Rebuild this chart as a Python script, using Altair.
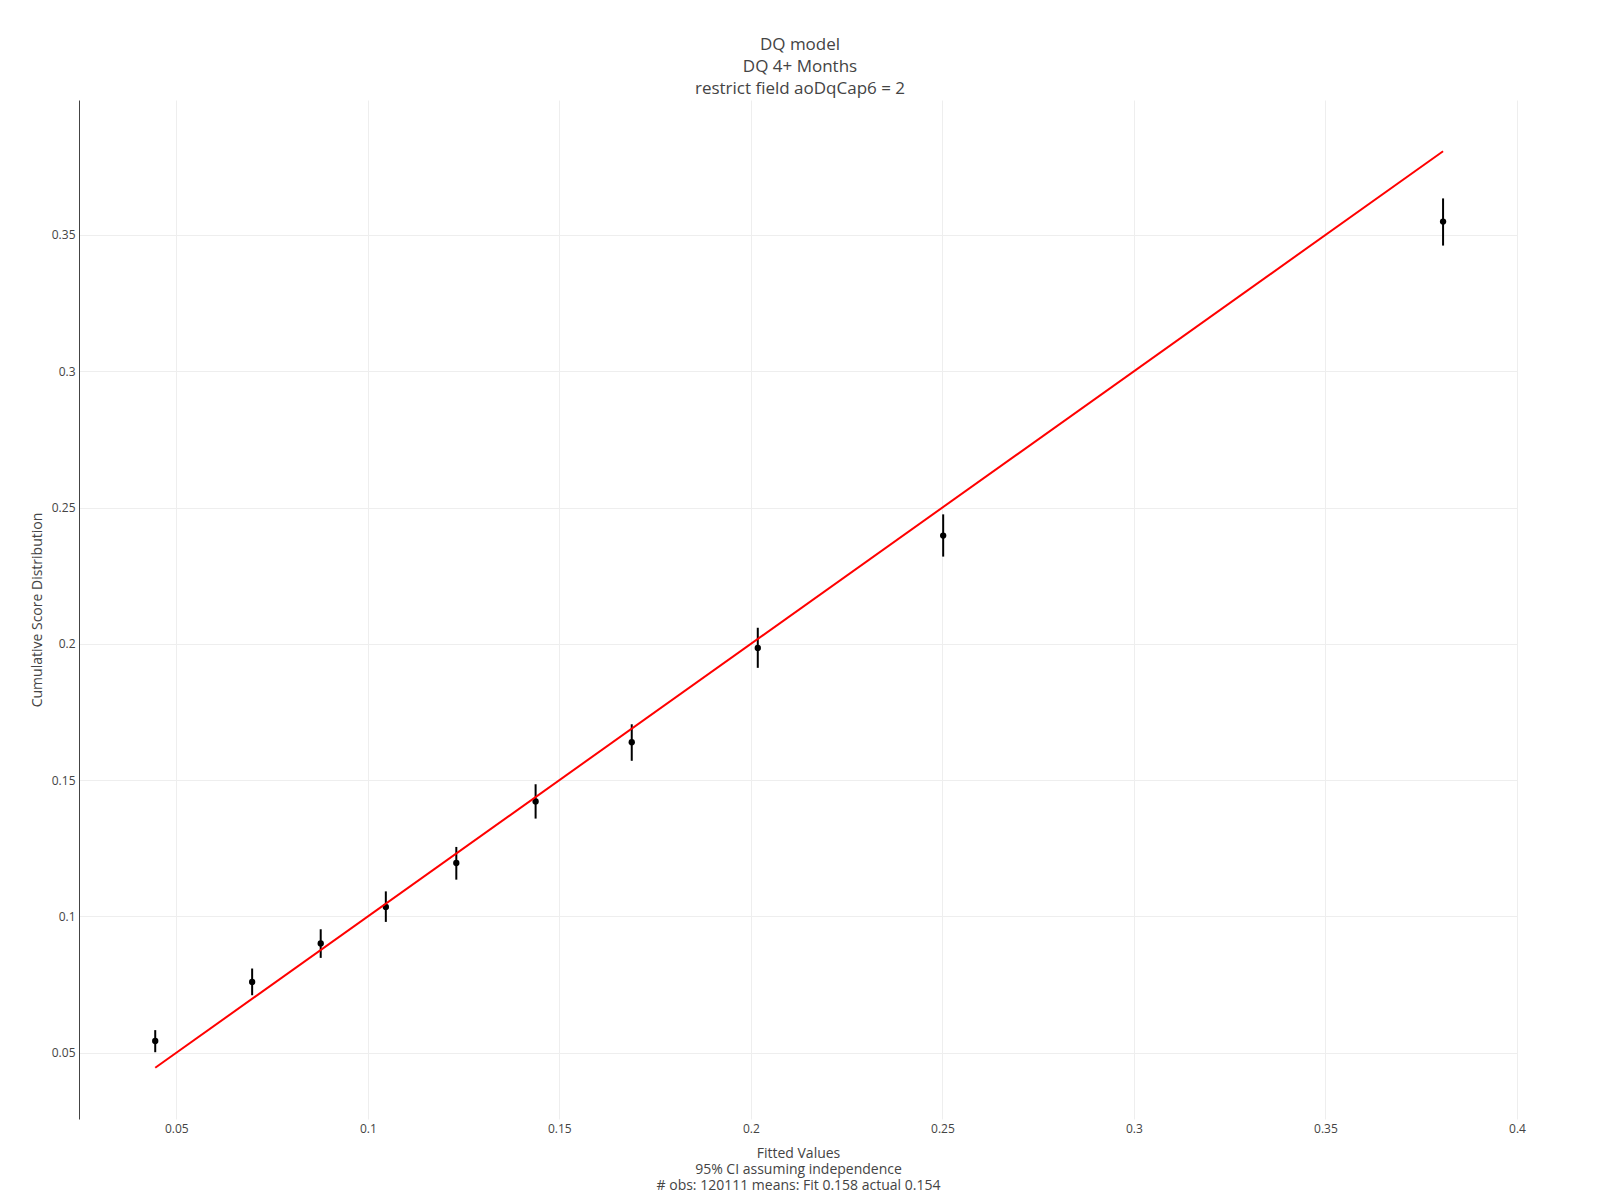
import altair as alt
import pandas as pd

# Data
fitted = [0.0445, 0.0698, 0.0877, 0.1047, 0.1231, 0.1438, 0.1689, 0.2018, 0.2502, 0.3807]
actual = [0.0543, 0.0760, 0.0901, 0.1035, 0.1196, 0.1422, 0.1639, 0.1985, 0.2397, 0.3549]
ci_low = [0.0502, 0.0711, 0.0848, 0.0980, 0.1135, 0.1359, 0.1571, 0.1912, 0.2320, 0.3461]
ci_high = [0.0583, 0.0809, 0.0953, 0.1092, 0.1255, 0.1485, 0.1705, 0.2059, 0.2475, 0.3634]
line_x = [0.0445, 0.3807]
line_y = [0.0445, 0.3807]

x_ticks = [0.05, 0.1, 0.15, 0.2, 0.25, 0.3, 0.35, 0.4]
y_ticks = [0.05, 0.1, 0.15, 0.2, 0.25, 0.3, 0.35]

title_lines = ["DQ model", "DQ 4+ Months", "restrict field aoDqCap6 = 2"]
x_title = ["Fitted Values", "95% CI assuming independence",
           "# obs: 120111 means: Fit 0.158 actual 0.154"]
y_title = "Cumulative Score Distribution"

pts = pd.DataFrame({"fitted": fitted, "actual": actual, "lo": ci_low, "hi": ci_high})
ln = pd.DataFrame({"fitted": line_x, "actual": line_y})

W, H = 1438, 1019
FONT = "Open Sans"
GREY = "#444"

xscale = alt.Scale(domain=[0.0246, 0.4], nice=False, zero=False)
yscale = alt.Scale(domain=[0.0257, 0.3995], nice=False, zero=False)

xaxis = alt.Axis(
    values=x_ticks, format=".2~f", grid=True, gridColor="#eeeeee", gridWidth=1,
    domain=False, ticks=False, labelFont=FONT, labelFontSize=12, labelColor=GREY,
    labelPadding=4, labelFlush=False, labelOverlap=False,
    title=x_title, titleFont=FONT, titleFontSize=14,
    titleFontWeight="normal", titleColor=GREY, titleLineHeight=16,
    titleBaseline="alphabetic", titleX=W / 2, titleY=38, titleAlign="center",
)
yaxis = alt.Axis(
    values=y_ticks, format=".2~f", grid=True, gridColor="#eeeeee", gridWidth=1,
    domain=True, domainColor=GREY, domainWidth=1, ticks=False, labelFont=FONT,
    labelFontSize=12, labelColor=GREY, labelPadding=4, labelFlush=False,
    labelOverlap=False, title=y_title,
    titleFont=FONT, titleFontSize=14, titleFontWeight="normal", titleColor=GREY,
    titleX=-42, titleY=H / 2, titleAngle=-90, titleBaseline="middle", titleAlign="center",
)

base = alt.Chart(pts)
bars = base.mark_rule(color="black", strokeWidth=2).encode(
    x=alt.X("fitted:Q", scale=xscale, axis=xaxis),
    y=alt.Y("lo:Q", scale=yscale, axis=yaxis),
    y2="hi:Q",
)
dots = base.mark_circle(color="black", size=40, opacity=1).encode(
    x=alt.X("fitted:Q", scale=xscale),
    y=alt.Y("actual:Q", scale=yscale),
)
line = alt.Chart(ln).mark_line(color="#ff0000", strokeWidth=2).encode(
    x=alt.X("fitted:Q", scale=xscale),
    y=alt.Y("actual:Q", scale=yscale),
)

chart = alt.layer(bars, dots, line).properties(
    width=W, height=H,
    background="white",
    title=alt.TitleParams(
        text=title_lines, font=FONT, fontSize=17, fontWeight="normal", color=GREY,
        lineHeight=22, anchor="middle", baseline="bottom", offset=4, frame="group",
        dy=19, dx=2,
    ),
    autosize=alt.AutoSizeParams(type="none"),
    padding={"left": 71, "top": 92, "right": 75, "bottom": 73},
).configure_view(stroke=None)

chart.save("out.html", embed_options={"renderer": "svg", "actions": False})
